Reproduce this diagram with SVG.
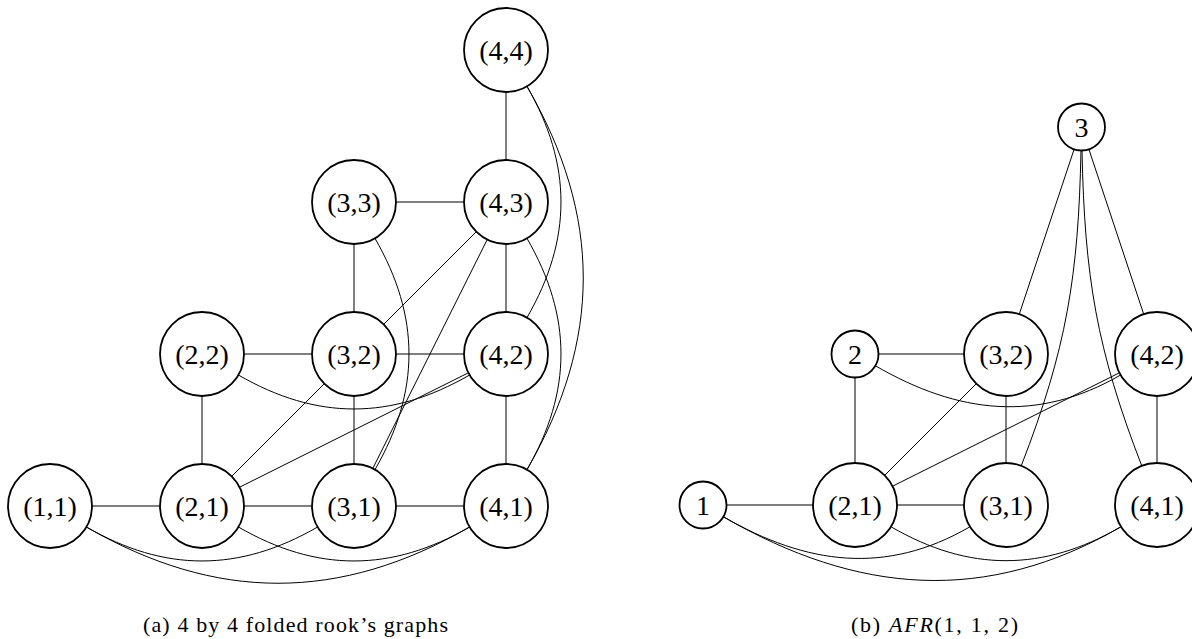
<svg xmlns="http://www.w3.org/2000/svg" width="1192" height="639" viewBox="0 0 1192 639">
<style>
.n{fill:#fff;stroke:#000;stroke-width:1.8}
.t{font-family:"Liberation Serif","DejaVu Serif",serif;font-size:28px;text-anchor:middle;dominant-baseline:central;fill:#000}
.c{font-family:"Liberation Serif","DejaVu Serif",serif;font-size:22px;fill:#000}
.e path{fill:none;stroke:#000;stroke-width:1}
</style>
<rect width="1192" height="639" fill="#fff"/>
<g id="connectors" class="e">
<path d="M92,506 H160 M244,506 H312 M396,506 H464 M244,354 H312 M396,354 H464 M396,202 H464"/>
<path d="M202,396 V464 M354,396 V464 M506,396 V464 M354,244 V312 M506,244 V312 M506,92 V160"/>
<path d="M476.3,231.7 L383.7,324.3 M324.3,383.7 L231.7,476.3 M487.2,239.6 L372.8,468.4 M468.4,372.8 L239.6,487.2"/>
<path d="M238.4,375 C316.8,420.3 391.2,420.3 469.6,375"/>
<path d="M86.4,527 C164.8,572.3 239.2,572.3 317.6,527"/>
<path d="M238.4,527 C316.8,572.3 391.2,572.3 469.6,527"/>
<path d="M86.4,527 C216.3,602 339.7,602 469.6,527"/>
<path d="M527,86.4 C572.3,164.8 572.3,239.2 527,317.6"/>
<path d="M527,86.4 C602,216.3 602,339.7 527,469.6"/>
<path d="M527,238.4 C572.3,316.8 572.3,391.2 527,469.6"/>
<path d="M375,238.4 C420.3,316.8 420.3,391.2 375,469.6"/>
<path d="M726.5,505 H813 M897,505 H964 M878.5,354 H964"/>
<path d="M855,377.5 V463 M1006,396 V463 M1157,396 V463"/>
<path d="M976.3,383.7 L884.7,475.3 M1119.4,372.8 L892.6,486.2"/>
<path d="M1074.1,149.3 L1019.3,314.1 M1088.9,149.3 L1143.7,314.1"/>
<path d="M875.4,365.8 C958.5,413.8 1037.5,423 1120.6,375"/>
<path d="M723.4,516.8 C807,565 886,575.2 969.6,527"/>
<path d="M723.4,516.8 C858.1,594.6 985.9,604.8 1120.6,527"/>
<path d="M891.4,527 C969.1,571.9 1042.9,571.9 1120.6,527"/>
<path d="M1081,150.5 C1078.4,276 1066.7,348.7 1021.2,465.9"/>
<path d="M1082,150.5 C1084.6,276 1096.3,348.7 1141.8,465.9"/>
</g>
<g id="a11"><circle class="n" cx="50" cy="506" r="42"/><text class="t" x="50" y="506">(1,1)</text></g>
<g id="a21"><circle class="n" cx="202" cy="506" r="42"/><text class="t" x="202" y="506">(2,1)</text></g>
<g id="a31"><circle class="n" cx="354" cy="506" r="42"/><text class="t" x="354" y="506">(3,1)</text></g>
<g id="a41"><circle class="n" cx="506" cy="506" r="42"/><text class="t" x="506" y="506">(4,1)</text></g>
<g id="a22"><circle class="n" cx="202" cy="354" r="42"/><text class="t" x="202" y="354">(2,2)</text></g>
<g id="a32"><circle class="n" cx="354" cy="354" r="42"/><text class="t" x="354" y="354">(3,2)</text></g>
<g id="a42"><circle class="n" cx="506" cy="354" r="42"/><text class="t" x="506" y="354">(4,2)</text></g>
<g id="a33"><circle class="n" cx="354" cy="202" r="42"/><text class="t" x="354" y="202">(3,3)</text></g>
<g id="a43"><circle class="n" cx="506" cy="202" r="42"/><text class="t" x="506" y="202">(4,3)</text></g>
<g id="a44"><circle class="n" cx="506" cy="50" r="42"/><text class="t" x="506" y="50">(4,4)</text></g>
<g id="b1"><circle class="n" cx="703" cy="505" r="23.5"/><text class="t" x="703" y="505">1</text></g>
<g id="b2"><circle class="n" cx="855" cy="354" r="23.5"/><text class="t" x="855" y="354">2</text></g>
<g id="b3"><circle class="n" cx="1081.5" cy="127" r="23.5"/><text class="t" x="1081.5" y="127">3</text></g>
<g id="b21"><circle class="n" cx="855" cy="505" r="42"/><text class="t" x="855" y="505">(2,1)</text></g>
<g id="b31"><circle class="n" cx="1006" cy="505" r="42"/><text class="t" x="1006" y="505">(3,1)</text></g>
<g id="b41"><circle class="n" cx="1157" cy="505" r="42"/><text class="t" x="1157" y="505">(4,1)</text></g>
<g id="b32"><circle class="n" cx="1006" cy="354" r="42"/><text class="t" x="1006" y="354">(3,2)</text></g>
<g id="b42"><circle class="n" cx="1157" cy="354" r="42"/><text class="t" x="1157" y="354">(4,2)</text></g>
<text class="c" x="143" y="632" textLength="305" lengthAdjust="spacing">(a)  4 by 4 folded rook’s graphs</text>
<text class="c" x="851" y="632" textLength="167" lengthAdjust="spacing">(b)  <tspan font-style="italic">AFR</tspan>(1, 1, 2)</text>
</svg>
